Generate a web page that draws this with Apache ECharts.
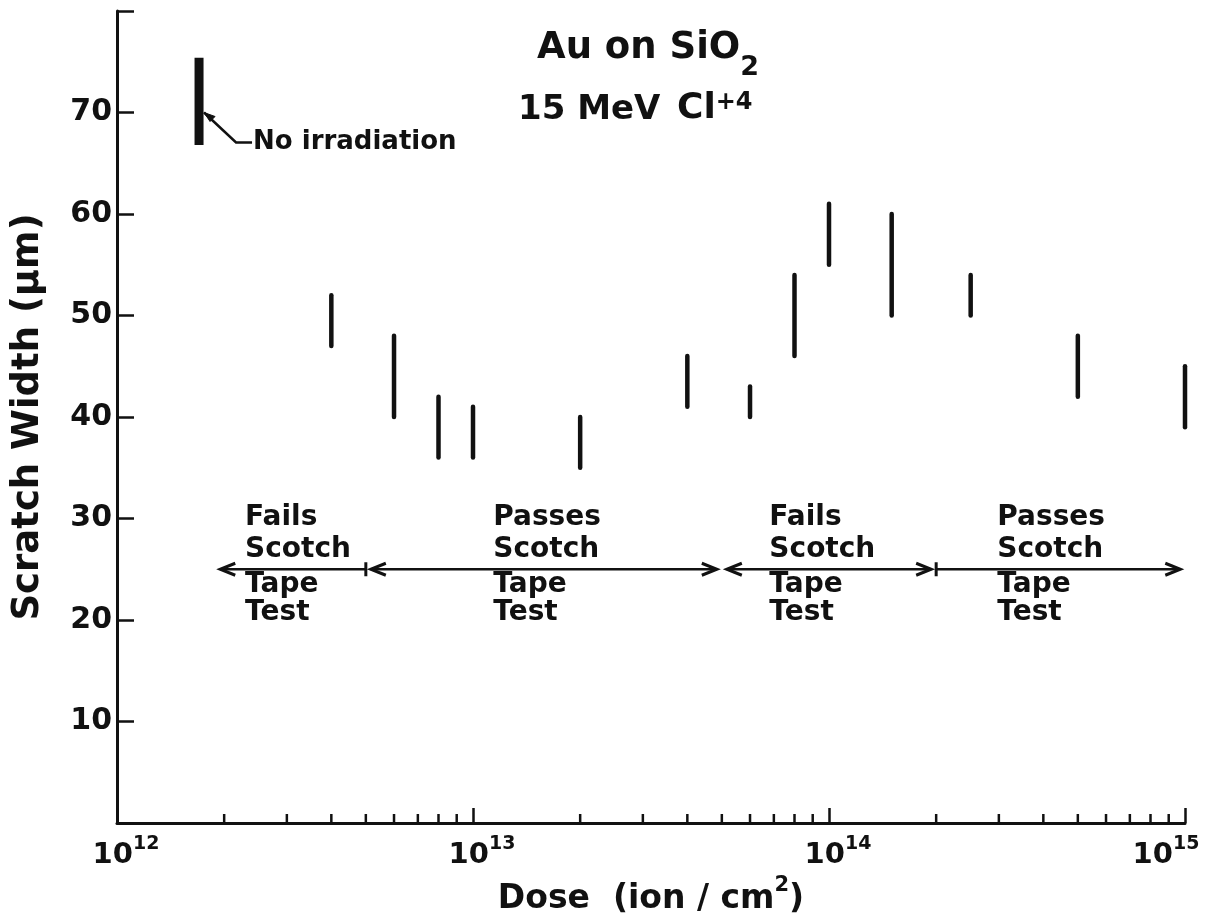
<!DOCTYPE html>
<html>
<head>
<meta charset="utf-8">
<title>Scratch width vs dose</title>
<script src="https://cdn.jsdelivr.net/npm/echarts@6/dist/echarts.min.js"></script>
<style>
  html, body { margin: 0; padding: 0; background: #ffffff; }
  #chart { width: 1208px; height: 915px; }
</style>
</head>
<body>
<div id="chart"></div>
<script>
// Scratch width range (µm) measured after irradiation, per dose (ion/cm²)
const doses     = [4e12, 6e12, 8e12, 1e13, 2e13, 4e13, 6e13, 8e13, 1e14, 1.5e14, 2.5e14, 5e14, 1e15];
const widthLow  = [47,   40,   36,   36,   35,   41,   40,   46,   55,   50,     50,     42,   39];
const widthHigh = [52,   48,   42,   41,   40,   46,   43,   54,   61,   60,     54,     48,   45];

// Unirradiated reference sample, shown at the left edge
const refDose  = [1.7e12];
const refLow   = [66.8];
const refHigh  = [75.4];
const refLevel = 70;
const refLabel = 'No irradiation';

// Scotch tape test outcome over dose bands
const bandNames    = ['Fails', 'Passes', 'Fails', 'Passes'];
const bandFrom     = [1.95e12, 5e12, 5e13, 2e14];
const bandTo       = [5e12, 5e13, 2e14, 9.7e14];
const bandDividers = [5e12, 2e14];
const bandLevel    = 25;
const bandLines    = ['Scotch', 'Tape', 'Test'];

// Axis ranges
const xRange = [1e12, 1e15];
const yRange = [0, 80];
const yStep  = 10;

// ---- presentation ----
const INK  = '#111111';
const FONT = '"DejaVu Sans", "Liberation Sans", sans-serif';
const font = (size) => 'bold ' + size + 'px ' + FONT;

// where each band's caption starts (dose units) and how its ends are drawn
const bandTextAt = [2.29e12, 1.14e13, 6.8e13, 2.97e14];
const bandHeads  = [['outer', 'none'], ['inner', 'inner'], ['inner', 'inner'], ['none', 'outer']];

// minor log ticks (2..9 in each decade)
const minorTicks = [];
for (let e = 12; e < 15; e++) {
  for (let m = 2; m <= 9; m++) minorTicks.push([m * Math.pow(10, e), 0]);
}

const chart = echarts.init(document.getElementById('chart'), null, { renderer: 'canvas' });

function chevron(tipX, y, dir) {
  // dir = +1: arms extend to the right (head points left)
  return {
    type: 'polyline',
    shape: { points: [[tipX + dir * 15, y - 6], [tipX, y], [tipX + dir * 15, y + 6]] },
    style: { stroke: INK, lineWidth: 3, fill: null, lineJoin: 'miter' }
  };
}

const option = {
  animation: false,
  backgroundColor: '#ffffff',
  grid: { left: 117, right: 23, top: 11, bottom: 92, containLabel: false, outerBoundsMode: 'none' },
  xAxis: {
    type: 'log',
    logBase: 10,
    min: xRange[0],
    max: xRange[1],
    name: '{b|Dose  (ion / cm}{s|2}{b|)}',
    nameLocation: 'middle',
    nameGap: 31,
    nameTextStyle: {
      rich: {
        b: { fontFamily: FONT, fontWeight: 'bold', fontSize: 33, verticalAlign: 'top', padding: [8, 0, 0, 0], color: INK },
        s: { fontFamily: FONT, fontWeight: 'bold', fontSize: 21, verticalAlign: 'top', color: INK }
      }
    },
    axisLine: { show: true, onZero: false, lineStyle: { color: INK, width: 3 } },
    axisTick: { show: true, inside: true, length: 15, lineStyle: { color: INK, width: 2.5 } },
    splitLine: { show: false },
    axisLabel: {
      margin: 12,
      formatter: function (v) {
        const e = Math.round(Math.log10(v));
        return e === 15 ? '{b2|10}{s2|' + e + '}' : '{b|10}{s|' + e + '}';
      },
      rich: {
        b:  { fontFamily: FONT, fontWeight: 'bold', fontSize: 29, verticalAlign: 'top', color: INK, padding: [6, 0, 0, 18] },
        s:  { fontFamily: FONT, fontWeight: 'bold', fontSize: 19, verticalAlign: 'top', color: INK },
        b2: { fontFamily: FONT, fontWeight: 'bold', fontSize: 29, verticalAlign: 'top', color: INK, padding: [6, 0, 0, 0] },
        s2: { fontFamily: FONT, fontWeight: 'bold', fontSize: 19, verticalAlign: 'top', color: INK, padding: [0, 38, 0, 0] }
      }
    }
  },
  yAxis: {
    type: 'value',
    min: yRange[0],
    max: yRange[1],
    interval: yStep,
    name: 'Scratch Width (µm)',
    nameLocation: 'middle',
    nameGap: 70,
    nameTextStyle: { fontFamily: FONT, fontWeight: 'bold', fontSize: 37, color: INK },
    axisLine: { show: true, onZero: false, lineStyle: { color: INK, width: 3 } },
    axisTick: { show: true, inside: true, length: 17, lineStyle: { color: INK, width: 2.5 } },
    splitLine: { show: false },
    axisLabel: {
      margin: 5,
      fontFamily: FONT, fontWeight: 'bold', fontSize: 30, color: INK,
      formatter: function (v) { return (v <= yRange[0] || v >= yRange[1]) ? '' : String(v); }
    }
  },
  graphic: [
    {
      type: 'text', x: 537, y: 30, silent: true,
      style: {
        text: '{b|Au on SiO}{s|2}',
        rich: {
          b: { font: font(37), lineHeight: 44, verticalAlign: 'top', fill: INK },
          s: { font: font(27), lineHeight: 30, verticalAlign: 'top', padding: [24, 0, 0, 0], fill: INK }
        }
      }
    },
    {
      type: 'text', x: 518, y: 93, silent: true,
      style: {
        text: '{b|15 MeV}',
        rich: { b: { font: font(34), lineHeight: 40, verticalAlign: 'top', fill: INK } }
      }
    },
    {
      type: 'text', x: 677, y: 91, silent: true,
      style: {
        text: '{b|Cl}{s|+4}',
        rich: {
          b: { font: font(36), lineHeight: 44, verticalAlign: 'top', fill: INK },
          s: { font: font(24), lineHeight: 28, verticalAlign: 'top', fill: INK }
        }
      }
    }
  ],
  series: [
    {
      // minor decade ticks on the dose axis
      type: 'custom',
      silent: true,
      clip: false,
      data: minorTicks,
      encode: { x: 0, y: 1 },
      renderItem: function (params, api) {
        const p = api.coord([api.value(0), api.value(1)]);
        return {
          type: 'line',
          shape: { x1: p[0], y1: p[1], x2: p[0], y2: p[1] - 9 },
          style: { stroke: INK, lineWidth: 2.5 }
        };
      }
    },
    {
      // measured scratch-width ranges
      type: 'custom',
      silent: true,
      clip: false,
      data: doses.map((d, i) => [d, widthLow[i], widthHigh[i]]),
      encode: { x: 0, y: [1, 2] },
      renderItem: function (params, api) {
        const lo = api.coord([api.value(0), api.value(1)]);
        const hi = api.coord([api.value(0), api.value(2)]);
        return {
          type: 'line',
          shape: { x1: lo[0], y1: lo[1], x2: hi[0], y2: hi[1] },
          style: { stroke: INK, lineWidth: 4.5, lineCap: 'round' }
        };
      }
    },
    {
      // unirradiated reference bar with its callout
      type: 'custom',
      silent: true,
      clip: false,
      data: refDose.map((d, i) => [d, refLow[i], refHigh[i], refLevel]),
      encode: { x: 0, y: [1, 2] },
      renderItem: function (params, api) {
        const lo = api.coord([api.value(0), api.value(1)]);
        const hi = api.coord([api.value(0), api.value(2)]);
        const at = api.coord([api.value(0), api.value(3)]);
        const sx = at[0] + 5, sy = at[1];
        const ex = sx + 32, ey = sy + 30;
        return {
          type: 'group',
          children: [
            { type: 'line', shape: { x1: lo[0], y1: lo[1], x2: hi[0], y2: hi[1] },
              style: { stroke: INK, lineWidth: 9, lineCap: 'butt' } },
            { type: 'polyline', shape: { points: [[sx, sy], [ex, ey], [ex + 16, ey]] },
              style: { stroke: INK, lineWidth: 2.5, fill: null } },
            { type: 'polygon', shape: { points: [[sx, sy], [sx + 11, sy + 4], [sx + 6, sy + 9]] },
              style: { fill: INK, stroke: INK, lineWidth: 1 } },
            { type: 'text', x: ex + 17, y: ey,
              style: { text: refLabel, font: font(26), fill: INK, align: 'left', verticalAlign: 'middle' } }
          ]
        };
      }
    },
    {
      // scotch tape test bands: double-headed spans with captions
      type: 'custom',
      silent: true,
      clip: false,
      data: bandFrom.map((f, i) => [f, bandTo[i], bandLevel]),
      encode: { x: [0, 1], y: 2 },
      renderItem: function (params, api) {
        const i = params.dataIndex;
        const a = api.coord([api.value(0), api.value(2)]);
        const b = api.coord([api.value(1), api.value(2)]);
        const y = a[1];
        const hl = bandHeads[i][0], hr = bandHeads[i][1];
        const x0 = a[0] + (hl === 'inner' ? 5 : 0);
        const x1 = b[0] - (hr === 'inner' ? 5 : 0);
        const children = [
          { type: 'line', shape: { x1: x0, y1: y, x2: x1, y2: y },
            style: { stroke: INK, lineWidth: 2.5 } }
        ];
        if (hl !== 'none') children.push(chevron(x0, y, 1));
        if (hr !== 'none') children.push(chevron(x1, y, -1));
        const tx = api.coord([bandTextAt[i], bandLevel])[0];
        const lines = [bandNames[i]].concat(bandLines);
        const offs = [-52, -20, 15, 43.5];
        lines.forEach((t, k) => {
          children.push({
            type: 'text', x: tx, y: y + offs[k],
            style: { text: t, font: font(28), fill: INK, align: 'left', verticalAlign: 'middle' }
          });
        });
        return { type: 'group', children: children };
      }
    },
    {
      // band boundaries
      type: 'custom',
      silent: true,
      clip: false,
      data: bandDividers.map((d) => [d, bandLevel]),
      encode: { x: 0, y: 1 },
      renderItem: function (params, api) {
        const p = api.coord([api.value(0), api.value(1)]);
        return {
          type: 'line',
          shape: { x1: p[0], y1: p[1] - 7, x2: p[0], y2: p[1] + 7 },
          style: { stroke: INK, lineWidth: 3 }
        };
      }
    }
  ]
};

chart.setOption(option);
</script>
</body>
</html>
